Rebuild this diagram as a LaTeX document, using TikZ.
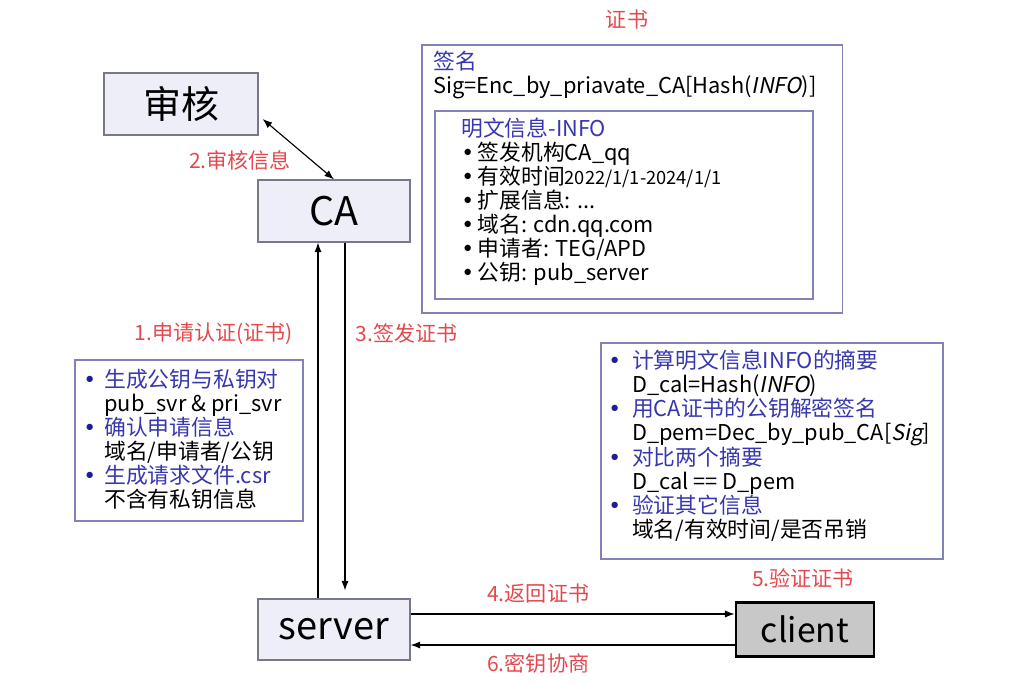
\documentclass[tikz,border=0pt]{standalone}
\usepackage{fontspec}
\setmainfont{Noto Sans CJK SC}
\newfontfamily\slfont{Noto Sans CJK SC}[FakeSlant=0.2]
\newfontfamily\dotfont{DejaVu Sans}
\usetikzlibrary{positioning, arrows.meta}

\definecolor{boxfill}{RGB}{238,238,248}
\definecolor{boxline}{RGB}{120,120,135}
\definecolor{certline}{RGB}{130,130,185}
\definecolor{labelred}{RGB}{228,72,78}
\definecolor{textblue}{RGB}{55,55,175}
\definecolor{dotblue}{RGB}{30,30,150}
\definecolor{clientgray}{RGB}{200,200,200}

\newcommand{\bul}[2][15pt]{\makebox[#1][l]{\textcolor{dotblue}{\dotfont •}}\textcolor{textblue}{#2}}
\newcommand{\cont}[2][15pt]{\hspace*{#1}#2}
\newcommand{\dotitem}{{\dotfont •}\hspace{2.5pt}}

\begin{document}
\begin{tikzpicture}[x=0.025cm, y=-0.025cm, >={Latex[length=2.4mm, width=1.8mm]},
            entity/.style={draw=boxline, fill=boxfill, thick},
            frame/.style={draw=certline, thick},
            body/.style={inner sep=0, align=left, anchor=north west, font=\fontsize{15.5}{17}\selectfont},
            steplabel/.style={text=labelred, font=\fontsize{15}{17}\selectfont},
            link/.style={->, thick},]

        \useasboundingbox (0,0) rectangle (1011,683);

        % Nodes entidades
        \node[entity, minimum width=3.85cm, minimum height=1.55cm, font=\fontsize{27}{30}\selectfont]
            (shenhe) at (181,104)   {审核};
        \node[entity, minimum width=3.8cm, minimum height=1.55cm, font=\fontsize{28}{30}\selectfont]
            (ca)     at (334,211)   {CA};
        \node[entity, minimum width=3.8cm, minimum height=1.525cm, font=\fontsize{27}{30}\selectfont]
            (server) at (334,629.5) {server};
        \node[entity, draw=black, fill=clientgray, line width=2pt, font=\fontsize{24}{28}\selectfont,
              minimum width=3.45cm, minimum height=1.33cm]
            (client) at (805,629.5) {client};

        % Nodes certificado
        \node[frame, minimum width=10.5cm, minimum height=6.7cm]    (cert)   at (632,179)   {};
        \node[body] (sigtext) at (433,51)
            {\textcolor{textblue}{签名}\\Sig=Enc\_by\_priavate\_CA[Hash({\slfont INFO})]};
        \node[frame, minimum width=9.45cm, minimum height=4.7cm]    (info)   at (624,205)   {};
        \node[body] (infotext) at (461,118)
            {\textcolor{textblue}{明文信息-INFO}\\
             \dotitem 签发机构CA\_qq\\
             \dotitem 有效时间{\fontsize{13}{17}\selectfont 2022/1/1-2024/1/1}\\
             \dotitem 扩展信息: ...\\
             \dotitem 域名: cdn.qq.com\\
             \dotitem 申请者: TEG/APD\\
             \dotitem 公钥: pub\_server};

        % Nodes passos
        \node[frame, minimum width=5.7cm, minimum height=4.025cm]   (request) at (189,440.5) {};
        \node[body] (requesttext) at (83,369)
            {\bul{生成公钥与私钥对}\\
             \cont{pub\_svr \& pri\_svr}\\
             \bul{确认申请信息}\\
             \cont{域名/申请者/公钥}\\
             \bul{生成请求文件.csr}\\
             \cont{不含有私钥信息}};
        \node[frame, minimum width=8.55cm, minimum height=5.4cm]    (verify)  at (772,451)   {};
        \node[body] (verifytext) at (608,350)
            {\bul[17pt]{计算明文信息INFO的摘要}\\
             \cont[17pt]{D\_cal=Hash({\slfont INFO})}\\
             \bul[17pt]{用CA证书的公钥解密签名}\\
             \cont[17pt]{D\_pem=Dec\_by\_pub\_CA[{\slfont Sig}]}\\
             \bul[17pt]{对比两个摘要}\\
             \cont[17pt]{D\_cal == D\_pem}\\
             \bul[17pt]{验证其它信息}\\
             \cont[17pt]{域名/有效时间/是否吊销}};

        % Rotulos
        \node[steplabel] (certlabel)   at (627,20)  {证书};
        \node[steplabel] (checklabel)  at (240,160) {2.审核信息};
        \node[steplabel] (verifylabel) at (803,578) {5.验证证书};

        % Conexoes
        \draw[<->, thick] ([shift={(4,15)}]shenhe.east) -- (ca.north);
        \draw[link] ([xshift=-0.4cm]server.north) --
            node[steplabel, pos=0.745, left=14pt] {1.申请认证(证书)} ([xshift=-0.4cm]ca.south);
        \draw[link, shorten >=0.2cm] ([xshift=0.275cm]ca.south) --
            node[steplabel, pos=0.255, right=4pt] {3.签发证书} ([xshift=0.275cm]server.north);
        \draw[link] ([yshift=0.3875cm]server.east) --
            node[steplabel, pos=0.394, above=4pt] {4.返回证书} ([yshift=0.3875cm]client.west);
        \draw[link] ([yshift=-0.3875cm]client.west) --
            node[steplabel, pos=0.606, below=2pt] {6.密钥协商} ([yshift=-0.3875cm]server.east);
    \end{tikzpicture}
\end{document}
